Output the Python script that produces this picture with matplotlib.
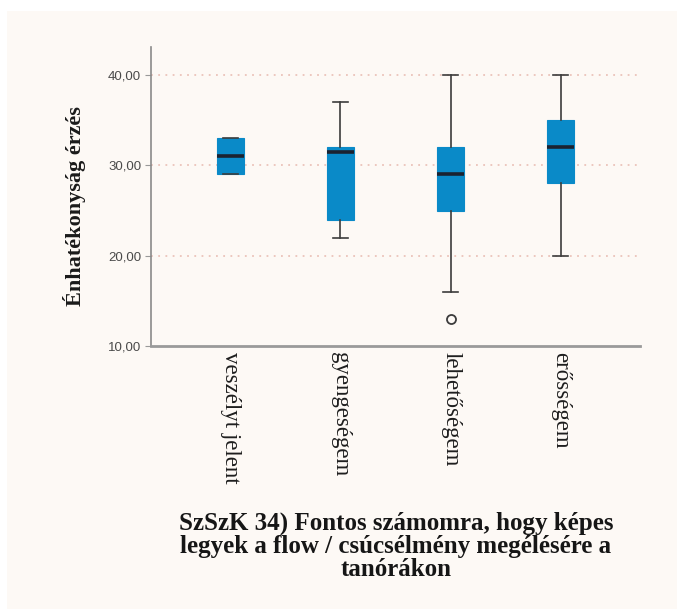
import matplotlib
matplotlib.use("Agg")
import matplotlib.pyplot as plt
from matplotlib.patches import Rectangle

categories = ["veszélyt jelent", "gyengeségem", "lehetőségem", "erősségem"]
q1 = [29, 24, 25, 28]
medians = [31, 31.5, 29, 32]
q3 = [33, 32, 32, 35]
whislo = [29, 22, 16, 20]
whishi = [33, 37, 40, 40]
fliers = [[], [], [13], []]
yticks = [10, 20, 30, 40]
ytick_labels = ["10,00", "20,00", "30,00", "40,00"]
ylabel = "Énhatékonyság érzés"
title = "SzSzK 34) Fontos számomra, hogy képes\nlegyek a flow / csúcsélmény megélésére a\ntanórákon"

W, H = 677, 609
cream = "#fdf9f5"
blue = "#0a8ac8"

fig = plt.figure(figsize=(W / 100, H / 100), dpi=100, facecolor="white")
# cream panel behind the chart
fig.patches.append(Rectangle((7 / W, 0), 1 - 7 / W, 1 - 11 / H, transform=fig.transFigure,
                             facecolor=cream, edgecolor="none", zorder=-10))

ax = fig.add_axes([151 / W, 1 - 346 / H, (640 - 151) / W, (346 - 47) / H])
ax.set_facecolor("none")

stats = []
for i, name in enumerate(categories):
    stats.append(dict(label=name, q1=q1[i], med=medians[i], q3=q3[i],
                      whislo=whislo[i], whishi=whishi[i], fliers=fliers[i]))

positions = range(1, len(categories) + 1)
ax.bxp(stats, positions=positions, widths=0.25, capwidths=0.14, patch_artist=True,
       boxprops=dict(facecolor=blue, edgecolor=blue, linewidth=0.8),
       medianprops=dict(color="#1b2230", linewidth=2.6, solid_capstyle="butt"),
       whiskerprops=dict(color="#3c3c3c", linewidth=1.2),
       capprops=dict(color="#3c3c3c", linewidth=1.2),
       flierprops=dict(marker="o", markersize=6.5, markerfacecolor="none",
                       markeredgecolor="#3c3c3c", markeredgewidth=1.3))

ax.set_xlim(0.28, 4.72)
ax.set_ylim(10, 43.1)

for y in yticks[1:]:
    ax.axhline(y, color="#ebc3ba", linewidth=1.3, linestyle=(0, (1, 3)), zorder=0)

ax.set_yticks(yticks)
ax.set_yticklabels(ytick_labels, fontfamily="Liberation Sans", fontsize=9.5, color="#4a4a4a")
ax.set_xticks(list(positions))
ax.set_xticklabels(categories, rotation=-90, fontfamily="Liberation Serif", fontsize=16.5,
                   color="#1e1e1e", va="top", ha="center")
ax.tick_params(axis="y", length=4, width=0.8, color="#999999", pad=3)
ax.tick_params(axis="x", length=0, pad=4)

for side in ["top", "right"]:
    ax.spines[side].set_visible(False)
ax.spines["left"].set_color("#8a8a8a")
ax.spines["left"].set_linewidth(1.2)
ax.spines["bottom"].set_color("#9a9a9a")
ax.spines["bottom"].set_linewidth(2)

ax.set_ylabel(ylabel, fontfamily="Liberation Serif", fontweight="bold", fontsize=16,
              color="#1a1a1a")
ax.yaxis.set_label_coords((86 - 151) / 489, (346 - 206) / 299)

fig.text(396 / W, 1 - 512 / H, title, ha="center", va="top", multialignment="center",
         fontfamily="Liberation Serif", fontweight="bold", fontsize=18, color="#161616",
         linespacing=1.0)

fig.savefig("out.png", dpi=100, facecolor="white")
